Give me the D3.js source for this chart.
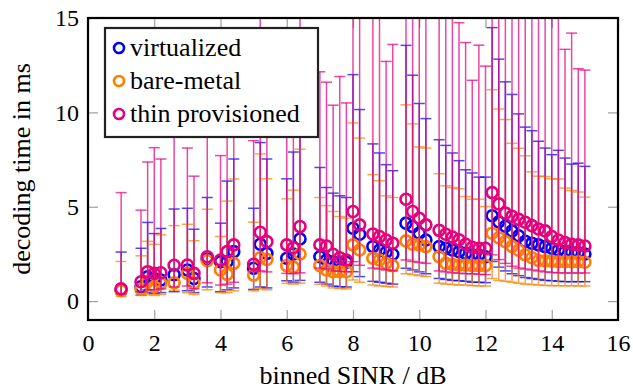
<!DOCTYPE html>
<html>
<head>
<meta charset="utf-8">
<script src="https://cdn.jsdelivr.net/npm/d3@7"></script>
<style>
  body { margin: 0; background: #fff; }
  text { font-family: "Liberation Serif", "DejaVu Serif", serif; fill: #000; }
</style>
</head>
<body>
<div id="chart"></div>
<script>
// SINR bins (dB)
var sinr = [1.0, 1.6, 1.8, 2.0, 2.2, 2.6, 3.0, 3.2, 3.6, 4.0, 4.2, 4.4,
  5.0, 5.2, 5.4, 6.0, 6.2, 6.4, 7.0, 7.2, 7.4, 7.6, 7.8, 8.0, 8.2,
  8.6, 8.8, 9.0, 9.2, 9.6, 9.8, 10.0, 10.2, 10.6, 10.8, 11.0, 11.2, 11.4, 11.6, 11.8, 12.0,
  12.2, 12.4, 12.6, 12.8, 13.0, 13.2, 13.4, 13.6, 13.8, 14.0, 14.2, 14.4, 14.6, 14.8, 15.0];

// virtualized
var virtMean = [0.6, 0.76, 1.29, 1.2, 1.12, 1.4, 1.65, 1.2, 2.21, 2.09, 2.09, 2.62,
  1.74, 3.01, 2.53, 2.27, 2.5, 3.29, 2.35, 2.18, 2.09, 2.06, 2.06, 3.86, 3.54,
  2.89, 2.71, 2.59, 2.48, 4.13, 3.95, 3.6, 3.24, 2.89, 2.8, 2.71, 2.62, 2.53, 2.44, 2.44, 2.35,
  4.52, 4.2, 3.97, 3.72, 3.46, 3.17, 3.07, 2.98, 2.89, 2.8, 2.71, 2.62, 2.57, 2.57, 2.5];
var virtUpper = [2.6, 2.8, 4.17, 3.58, 3.85, 4.88, 4.92, 3.81, 5.49, 4.13, 6.36, 7.53,
  4.92, 8.4, 7.53, 6.48, 7.9, 10.0, 7.08, 6.02, 5.72, 5.58, 5.49, 12.0, 10.15,
  8.33, 7.85, 7.23, 6.91, 13.55, 11.97, 10.47, 9.67, 8.55, 8.25, 7.85, 7.44, 6.96, 6.79, 6.57, 6.57,
  14.49, 12.82, 11.62, 10.95, 9.92, 9.22, 9.03, 8.47, 8.11, 7.76, 7.99, 7.58, 7.26, 7.31, 7.14];
var virtLower = [0.35, 0.32, 0.45, 0.4, 0.45, 0.5, 0.55, 0.45, 0.75, 0.5, 0.6, 0.7,
  0.62, 0.75, 0.7, 1.08, 1.0, 1.1, 1.0, 0.9, 0.8, 0.76, 0.75, 1.56, 1.3,
  1.05, 1.0, 0.95, 0.9, 1.74, 1.65, 1.55, 1.45, 1.2, 1.15, 1.1, 1.08, 1.05, 1.0, 1.0, 0.98,
  2.1, 1.8, 1.6, 1.45, 1.35, 1.25, 1.2, 1.15, 1.1, 1.08, 1.05, 1.03, 1.03, 1.03, 1.03];

// bare-metal
var bareMean = [0.55, 0.64, 1.03, 0.76, 0.94, 0.97, 1.47, 0.94, 2.14, 1.65, 1.42, 2.0,
  1.38, 2.3, 2.21, 1.88, 1.8, 2.5, 1.88, 1.65, 1.56, 1.56, 1.56, 2.98, 2.71,
  2.27, 2.18, 2.0, 1.88, 3.19, 3.01, 2.98, 2.89, 2.35, 2.0, 1.95, 1.91, 1.91, 1.88, 1.88, 1.88,
  3.6, 3.36, 3.15, 2.9, 2.7, 2.45, 2.3, 2.15, 2.13, 2.11, 2.09, 2.09, 2.09, 2.09, 2.06];
var bareUpper = [2.1, 2.4, 3.17, 3.01, 3.51, 4.0, 4.07, 3.2, 4.87, 3.42, 5.3, 6.47,
  4.18, 7.8, 6.48, 5.42, 5.88, 8.05, 5.49, 5.06, 4.75, 4.48, 4.4, 9.44, 8.64,
  6.7, 6.38, 5.58, 5.49, 10.4, 9.39, 8.17, 8.11, 6.75, 6.11, 6.02, 5.95, 5.54, 5.4, 5.4, 5.01,
  11.2, 10.18, 9.62, 8.36, 8.1, 7.7, 6.85, 6.62, 6.6, 6.48, 6.47, 5.99, 5.86, 5.78, 5.51];
var bareLower = [0.25, 0.3, 0.35, 0.3, 0.35, 0.58, 0.45, 0.35, 0.6, 0.45, 0.45, 0.55,
  0.55, 0.65, 0.6, 0.94, 0.9, 0.95, 0.89, 0.8, 0.7, 0.67, 0.65, 1.12, 1.0,
  0.85, 0.8, 0.78, 0.75, 1.45, 1.4, 1.35, 1.3, 0.95, 0.9, 0.88, 0.85, 0.85, 0.82, 0.8, 0.8,
  1.2, 1.1, 1.05, 1.0, 0.95, 0.9, 0.88, 0.85, 0.83, 0.82, 0.81, 0.81, 0.81, 0.8, 0.8];

// thin provisioned (20 = whisker leaves the plot)
var thinMean = [0.65, 1.03, 1.56, 1.47, 1.5, 1.9, 1.91, 1.47, 2.35, 2.18, 2.62, 2.98,
  1.95, 3.65, 3.15, 2.98, 2.83, 3.95, 2.98, 2.92, 2.48, 2.3, 2.18, 4.75, 4.04,
  3.56, 3.42, 3.24, 3.07, 5.4, 4.75, 4.39, 4.04, 3.75, 3.54, 3.4, 3.25, 3.01, 2.85, 2.8, 2.8,
  5.75, 5.15, 4.66, 4.5, 4.33, 4.18, 4.0, 3.82, 3.72, 3.42, 3.24, 3.1, 3.01, 2.98, 2.92];
var thinUpper = [5.75, 4.82, 7.37, 8.13, 7.53, 11.0, 8.11, 6.62, 11.0, 7.71, 12.0, 11.0,
  8.5, 20, 10.0, 11.0, 11.0, 20, 12.15, 11.6, 10.38, 11.9, 10.5, 20, 20,
  20, 20, 12.7, 13.6, 20, 20, 20, 20, 20, 20, 20, 14.75, 13.7, 11.7, 13.56, 12.45,
  20, 20, 20, 20, 20, 20, 20, 20, 20, 20, 20, 13.34, 14.2, 12.31, 12.24];
var thinLower = [0.4, 0.5, 0.6, 0.6, 0.65, 0.75, 0.8, 0.65, 0.97, 0.85, 0.9, 1.0,
  1.56, 1.6, 1.55, 1.47, 1.45, 1.5, 1.75, 1.7, 1.6, 1.58, 1.55, 2.09, 1.9,
  1.75, 1.7, 1.65, 1.6, 2.18, 2.1, 2.05, 2.0, 1.6, 1.55, 1.5, 1.48, 1.45, 1.45, 1.42, 1.4,
  2.45, 2.2, 2.0, 1.85, 1.75, 1.7, 1.65, 1.6, 1.55, 1.52, 1.5, 1.49, 1.49, 1.49, 1.49];

var xTicks = [0, 2, 4, 6, 8, 10, 12, 14, 16];
var yTicks = [0, 5, 10, 15];

var series = [
  { name: "virtualized", color: "#0000ff", mean: virtMean, upper: virtUpper, lower: virtLower },
  { name: "bare-metal", color: "#ff8000", mean: bareMean, upper: bareUpper, lower: bareLower },
  { name: "thin provisioned", color: "#e6007e", mean: thinMean, upper: thinUpper, lower: thinLower }
];

var width = 633, height = 389;
var plotL = 88, plotR = 618, plotT = 18, plotB = 320;

var svg = d3.select("#chart").append("svg")
  .attr("width", width)
  .attr("height", height);

var x = d3.scaleLinear().domain([0, 16]).range([plotL, plotR]);
var y = d3.scaleLinear().domain([-1, 15]).range([plotB, plotT]);

svg.append("defs").append("clipPath").attr("id", "plot-clip")
  .append("rect")
  .attr("x", plotL).attr("y", plotT)
  .attr("width", plotR - plotL).attr("height", plotB - plotT);

// tick marks (grey, pointing inwards)
svg.append("g").attr("transform", "translate(0," + plotB + ")")
  .call(d3.axisBottom(x).tickValues(xTicks).tickSize(-10).tickFormat(""))
  .call(g => g.select(".domain").remove());
svg.append("g").attr("transform", "translate(0," + plotT + ")")
  .call(d3.axisTop(x).tickValues(xTicks).tickSize(-10).tickFormat(""))
  .call(g => g.select(".domain").remove());
svg.append("g").attr("transform", "translate(" + plotL + ",0)")
  .call(d3.axisLeft(y).tickValues(yTicks).tickSize(-10).tickFormat(""))
  .call(g => g.select(".domain").remove());
svg.append("g").attr("transform", "translate(" + plotR + ",0)")
  .call(d3.axisRight(y).tickValues(yTicks).tickSize(-10).tickFormat(""))
  .call(g => g.select(".domain").remove());
svg.selectAll(".tick line").attr("stroke", "#a0a0a0").attr("stroke-width", 1.2);

// tick labels
var xLab = svg.append("g").attr("transform", "translate(0," + plotB + ")")
  .call(d3.axisBottom(x).tickValues(xTicks).tickSize(0).tickPadding(14).tickFormat(d3.format("d")));
xLab.select(".domain").remove();
xLab.selectAll("text").style("font-size", "24px").style("font-family", "Liberation Serif");

var yLab = svg.append("g").attr("transform", "translate(" + plotL + ",0)")
  .call(d3.axisLeft(y).tickValues(yTicks).tickSize(0).tickPadding(9).tickFormat(d3.format("d")));
yLab.select(".domain").remove();
yLab.selectAll("text").style("font-size", "24px").style("font-family", "Liberation Serif");

// data
var plot = svg.append("g").attr("clip-path", "url(#plot-clip)");
var capW = 5.5;

series.forEach(function(s) {
  var g = plot.append("g");
  var rows = sinr.map(function(v, i) {
    return { x: v, m: s.mean[i], hi: s.upper[i], lo: s.lower[i] };
  });
  var bars = g.append("g")
    .attr("stroke", s.color)
    .attr("stroke-opacity", 0.72)
    .attr("stroke-width", 1.5);
  bars.selectAll(".whisker").data(rows).enter().append("line")
    .attr("x1", d => x(d.x)).attr("x2", d => x(d.x))
    .attr("y1", d => y(d.lo)).attr("y2", d => y(d.hi));
  bars.selectAll(".cap-hi").data(rows).enter().append("line")
    .attr("x1", d => x(d.x) - capW).attr("x2", d => x(d.x) + capW)
    .attr("y1", d => y(d.hi)).attr("y2", d => y(d.hi));
  bars.selectAll(".cap-lo").data(rows).enter().append("line")
    .attr("x1", d => x(d.x) - capW).attr("x2", d => x(d.x) + capW)
    .attr("y1", d => y(d.lo)).attr("y2", d => y(d.lo));
  g.selectAll("circle").data(rows).enter().append("circle")
    .attr("cx", d => x(d.x))
    .attr("cy", d => y(d.m))
    .attr("r", 5.5)
    .attr("fill", "none")
    .attr("stroke", s.color)
    .attr("stroke-width", 2.6);
});

// frame
svg.append("rect")
  .attr("x", plotL).attr("y", plotT)
  .attr("width", plotR - plotL).attr("height", plotB - plotT)
  .attr("fill", "none")
  .attr("stroke", "#000")
  .attr("stroke-width", 2.2);

// axis titles
svg.append("text")
  .attr("x", (plotL + plotR) / 2)
  .attr("y", 384)
  .attr("text-anchor", "middle")
  .style("font-size", "26px")
  .text("binned SINR / dB");

svg.append("text")
  .attr("transform", "translate(30," + ((plotT + plotB) / 2) + ") rotate(-90)")
  .attr("text-anchor", "middle")
  .style("font-size", "26px")
  .text("decoding time in ms");

// legend
var legend = svg.append("g");
legend.append("rect")
  .attr("x", 105).attr("y", 28)
  .attr("width", 213).attr("height", 109)
  .attr("fill", "#fff")
  .attr("stroke", "#222")
  .attr("stroke-width", 2.2);

var entry = legend.selectAll(".entry").data(series).enter().append("g")
  .attr("transform", (d, i) => "translate(0," + (48 + i * 33) + ")");
entry.append("circle")
  .attr("cx", 119).attr("cy", 0).attr("r", 5)
  .attr("fill", "none")
  .attr("stroke", d => d.color)
  .attr("stroke-width", 2.6);
entry.append("text")
  .attr("x", 130).attr("y", 8)
  .style("font-size", "26px")
  .text(d => d.name);
</script>
</body>
</html>
